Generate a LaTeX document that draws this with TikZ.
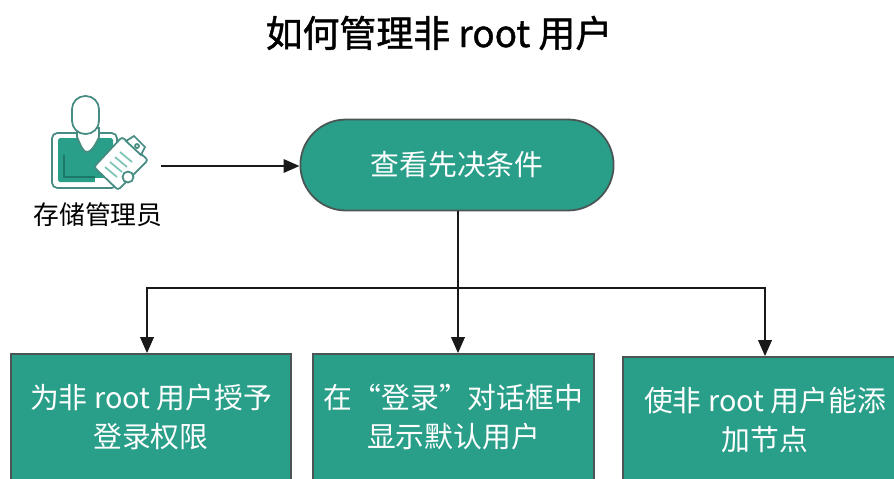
\documentclass[tikz,border=0pt]{standalone}
\usepackage{fontspec}
\setmainfont{Noto Sans CJK SC}
\newfontfamily\titlefont[FakeBold=1.2]{Noto Sans CJK SC}
\usetikzlibrary{arrows.meta}
\usetikzlibrary{shapes.misc}
\definecolor{tealfill}{RGB}{41,158,137}
\definecolor{tealdark}{RGB}{30,120,105}
\definecolor{tealline}{RGB}{70,140,130}
\definecolor{edgegray}{RGB}{75,85,85}
\tikzset{
    stepbox/.style={draw=edgegray, line width=1pt, fill=tealfill, text=white, minimum height=2.52cm, align=center, font=\fontsize{16.4}{22}\selectfont},
    startpill/.style={draw=edgegray, line width=1pt, fill=tealfill, text=white, rounded rectangle, minimum width=6.5cm, minimum height=1.82cm, font=\fontsize{16.4}{22}\selectfont},
    flow/.style={line width=1.1pt, color=black!90},
    flowtip/.style={flow, -{Triangle[length=0.32cm, width=0.27cm]}},
    iconline/.style={draw=tealline, line width=1pt, fill=white}
}

\begin{document}
\begin{tikzpicture}[x=0.02cm, y=-0.02cm]

    \useasboundingbox (0,0) rectangle (894,478);
    \clip (0,0) rectangle (894,478);

    \node[font=\titlefont\fontsize{21}{25}\selectfont] (title) at (439,33) {如何管理非 root 用户};

    % person
    \draw[iconline, rounded corners=3] (52,133) rectangle (117,188);
    \fill[tealfill, rounded corners=1] (58,138) rectangle (113,182);
    \draw[tealdark, line width=1pt] (64,155) -- (64,177) -- (95,177);
    \fill[white] (95,178) rectangle (110,186);
    \draw[iconline] (77,128) -- (77,137) .. controls (81,146) and (83,152) .. (87,152) .. controls (91,152) and (95,146) .. (99,137) -- (99,128) -- cycle;
    \draw[iconline, rounded corners=7.5] (72,96) rectangle (99,134);

    % clipboard
    \draw[iconline, rounded corners=1.5] (94,167) -- (122,137) -- (148,160) -- (118,190) -- cycle;
    \draw[iconline] (126,141) -- (134,136) -- (145,147) -- (141,155) -- cycle;
    \draw[iconline] (137,146) circle (2);
    \draw[iconline] (128,177) circle (5.5);
    \foreach \i in {0,1,2,3}
        \draw[tealfill!60, line width=1pt] (105+\i*5,167-\i*5) -- (117+\i*5,177-\i*5);

    \coordinate (adminout) at (161,166);
    \node[font=\fontsize{14.7}{18}\selectfont] (adminlabel) at (98,215) {存储管理员};

    \node[startpill] (prereq) at (457,165) {查看先决条件};

    \node[stepbox, minimum width=5.6cm] (grant) at (151,417) {为非 root 用户授予\\登录权限};
    \node[stepbox, minimum width=5.62cm] (login) at (453.5,417) {在“登录”对话框中\\显示默认用户};
    \node[stepbox, minimum width=5.68cm] (addnode) at (765,420) {使非 root 用户能添\\加节点};

    \coordinate (branch) at (458,288);

    \draw[flowtip] (adminout) -- (adminout -| prereq.west);
    \draw[flow] (prereq.south -| branch) -- (branch);
    \draw[flowtip] (branch) -| ([xshift=-0.08cm]grant.north);
    \draw[flowtip] (branch) -- (branch |- login.north);
    \draw[flowtip] (branch) -| (addnode.north);

\end{tikzpicture}
\end{document}
